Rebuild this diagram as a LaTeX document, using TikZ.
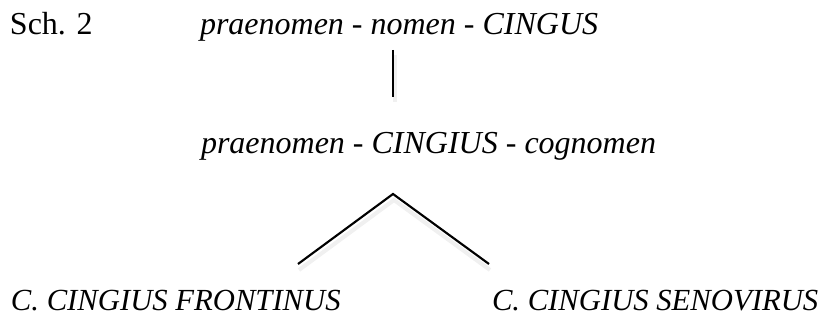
\documentclass[tikz,border=0pt]{standalone}
\usepackage{fontspec}
\setmainfont{Liberation Serif}
\begin{document}
\begin{tikzpicture}[x=0.75pt,y=-0.75pt,
  lbl/.style={inner sep=0pt,outer sep=0pt,anchor=base west,font=\fontsize{24}{28}\selectfont},
  sublbl/.style={lbl,font=\fontsize{23}{27}\selectfont},
  stem/.style={line width=1.6pt,line cap=butt,black},
  shade/.style={line width=3pt,black!6}]
\useasboundingbox (0,0) rectangle (833,324);
\node[lbl] (sch) at (10,35) {Sch. 2};
\node[lbl] (top) at (200,35) {\textit{praenomen} - \textit{nomen} - \textit{CINGUS}};
\node[lbl] (mid) at (201,154) {\textit{praenomen} - \textit{CINGIUS} - \textit{cognomen}};
\node[sublbl] (left) at (11,311) {\textit{C. CINGIUS FRONTINUS}};
\node[sublbl] (right) at (492,311) {\textit{C. CINGIUS SENOVIRUS}};
\coordinate (vt) at (393,50);
\coordinate (vb) at (393,97);
\coordinate (apex) at (393,194);
\coordinate (le) at (298,264);
\coordinate (re) at (489,264);
\draw[shade] ([shift={(2,5)}]vt) -- ([shift={(2,5)}]vb);
\draw[shade] ([shift={(1,6)}]le) -- ([shift={(1,6)}]apex) -- ([shift={(1,6)}]re);
\draw[stem] (vt) -- (vb);
\draw[stem,line join=miter] (le) -- (apex) -- (re);
\end{tikzpicture}
\end{document}
